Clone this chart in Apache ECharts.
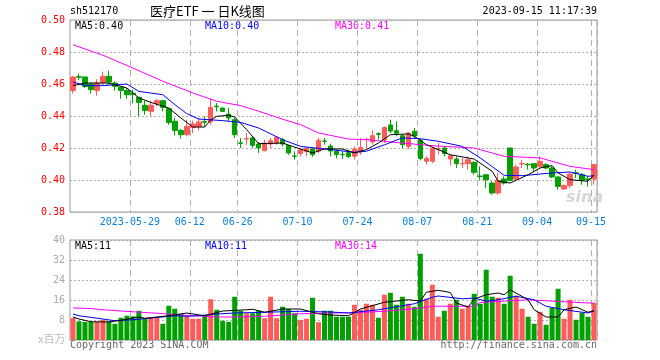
<!DOCTYPE html>
<html><head><meta charset="utf-8">
<script src="https://cdn.jsdelivr.net/npm/echarts@6/dist/echarts.min.js"></script>
<style>html,body{margin:0;padding:0;background:#fff}#c{width:660px;height:360px}</style>
</head><body><div id="c"></div>
<script>
const dates = ['05-15','05-16','05-17','05-18','05-19','05-22','05-23','05-24','05-25','05-26','05-29','05-30','05-31',
'06-01','06-02','06-05','06-06','06-07','06-08','06-09','06-12','06-13','06-14','06-15','06-16','06-19','06-20','06-21','06-26','06-27','06-28','06-29','06-30',
'07-03','07-04','07-05','07-06','07-07','07-10','07-11','07-12','07-13','07-14','07-17','07-18','07-19','07-20','07-21','07-24','07-25','07-26','07-27','07-28','07-31',
'08-01','08-02','08-03','08-04','08-07','08-08','08-09','08-10','08-11','08-14','08-15','08-16','08-17','08-18','08-21','08-22','08-23','08-24','08-25','08-28','08-29','08-30','08-31',
'09-01','09-04','09-05','09-06','09-07','09-08','09-11','09-12','09-13','09-14','09-15'];
const opens = [0.456,0.4646,0.4644,0.46,0.456,0.461,0.4648,0.4606,0.458,0.456,
0.4542,0.4517,0.4467,0.4429,0.4477,0.4496,0.4446,0.4367,0.431,0.4283,
0.4329,0.4335,0.4365,0.4363,0.4462,0.445,0.4412,0.4377,0.4232,0.4256,
0.4263,0.4225,0.4183,0.4225,0.4231,0.4252,0.4215,0.415,0.4165,0.4179,
0.4194,0.4181,0.4244,0.4212,0.4179,0.416,0.4171,0.4148,0.4175,0.4252,
0.4238,0.429,0.425,0.4344,0.4308,0.4277,0.421,0.4304,0.4248,0.4117,
0.4117,0.4193,0.42,0.4131,0.4131,0.4101,0.4102,0.411,0.4025,0.4033,
0.3981,0.3919,0.4006,0.42,0.4006,0.41,0.4098,0.4102,0.4085,0.4096,
0.4075,0.4019,0.3944,0.3965,0.4045,0.4033,0.4007,0.4006];
const closes = [0.4644,0.4642,0.4585,0.4565,0.4606,0.4648,0.4612,0.4585,0.456,0.4533,
0.4535,0.4485,0.4435,0.4467,0.4496,0.4454,0.436,0.431,0.4283,0.4335,
0.435,0.4363,0.4361,0.4454,0.4458,0.4429,0.4388,0.4283,0.4229,0.4259,
0.4217,0.42,0.4231,0.4246,0.4267,0.4225,0.4169,0.4148,0.4188,0.42,
0.4158,0.4248,0.4241,0.4181,0.416,0.4158,0.4146,0.4194,0.4203,0.4255,
0.4277,0.4286,0.4328,0.4306,0.4292,0.4221,0.4294,0.4275,0.4135,0.4135,
0.4197,0.4196,0.4165,0.4152,0.4102,0.4104,0.4127,0.4048,0.4022,0.4002,
0.3919,0.3998,0.3981,0.3998,0.4081,0.4103,0.4095,0.4075,0.4117,0.4075,
0.4019,0.396,0.3965,0.4037,0.4042,0.3998,0.4004,0.4096];
const lows = [0.454,0.4623,0.4575,0.454,0.4527,0.4596,0.4596,0.4558,0.4508,0.4508,
0.448,0.4398,0.4408,0.4398,0.446,0.443,0.4346,0.4279,0.4258,0.4273,
0.4294,0.431,0.4335,0.4346,0.4429,0.4425,0.437,0.4263,0.42,0.422,
0.42,0.4169,0.4179,0.42,0.4221,0.421,0.4158,0.4127,0.4148,0.4148,
0.4144,0.4169,0.4221,0.4148,0.4135,0.4131,0.4138,0.4127,0.4158,0.42,
0.4221,0.4252,0.4231,0.4294,0.4273,0.42,0.4194,0.4263,0.4123,0.4096,
0.4106,0.4158,0.4148,0.409,0.4075,0.4075,0.4065,0.4033,0.4002,0.395,
0.3908,0.3908,0.3971,0.3992,0.3992,0.4075,0.4065,0.4054,0.4075,0.4065,
0.4012,0.394,0.3938,0.395,0.4012,0.3971,0.396,0.3971];
const highs = [0.465,0.4665,0.4644,0.461,0.463,0.4677,0.4683,0.4617,0.458,0.4575,
0.4565,0.4517,0.4496,0.4496,0.4506,0.4496,0.445,0.4388,0.4319,0.4377,
0.4371,0.4388,0.4398,0.4508,0.4481,0.4452,0.445,0.4388,0.4263,0.4294,
0.4273,0.4237,0.4252,0.4263,0.4275,0.4263,0.4215,0.4179,0.42,0.4206,
0.42,0.4263,0.4263,0.4227,0.419,0.4179,0.419,0.421,0.4263,0.4263,
0.431,0.4298,0.4335,0.4377,0.4367,0.4283,0.4298,0.4325,0.4256,0.4148,
0.4206,0.4231,0.421,0.4152,0.4148,0.4138,0.4148,0.4117,0.4085,0.4033,
0.3992,0.4044,0.4023,0.42,0.4096,0.4127,0.4106,0.4106,0.4148,0.4106,
0.4085,0.4023,0.3973,0.4044,0.4065,0.4044,0.4023,0.4102];
const volumes = [8.8,7.5,7.2,7.2,7.2,8.1,7.5,6.5,8.9,9.7,
9.5,11.7,8.8,8.8,8.8,6.5,13.7,12.5,10.4,9.7,
8.5,8.5,10,16.3,12.1,7.7,7.3,17.3,11.7,10.7,
10.7,11.7,8.7,17.3,8.7,13.3,12.4,10.7,8,8.5,
16.9,7.1,11.7,11.7,9.3,9.3,9.3,14.1,12.1,14.5,
14.1,8.9,18.1,18.9,14.1,17.3,14.5,13.3,34.5,16.5,
22.1,9.3,11.7,14.5,16.1,12.5,13.3,18.5,14.5,28.1,
17.3,16.9,14.5,25.7,17.7,12.5,9.3,6.5,11.3,6.1,
12.9,20.5,8.5,16.1,8.1,10.9,9.3,14.9];
// moving-average lines at sample candles: [candle index, value]
const ma5Pts = [[0,0.459],[2,0.4606],[6,0.4606],[9,0.4575],[11,0.4513],[13,0.4485],[16,0.445],[18,0.4388],[20,0.4331],[22,0.4331],[23,0.4375],[24,0.4398],[26,0.4404],[27,0.4394],[29,0.4315],[31,0.4227],[35,0.4231],[37,0.4206],[40,0.4169],[42,0.4194],[45,0.4194],[47,0.4169],[49,0.419],[51,0.4231],[53,0.4283],[56,0.4288],[57,0.4273],[59,0.4221],[61,0.419],[63,0.4158],[67,0.4131],[70,0.4054],[71,0.3992],[73,0.3981],[76,0.4033],[78,0.4075],[80,0.409],[81,0.4044],[83,0.4002],[86,0.3992],[87,0.4033]];
const ma10Pts = [[0,0.4613],[2,0.459],[5,0.459],[9,0.46],[11,0.4554],[15,0.4533],[17,0.4471],[19,0.4415],[21,0.4381],[25,0.4371],[28,0.436],[31,0.4325],[35,0.4252],[38,0.421],[43,0.419],[47,0.4173],[49,0.418],[52,0.422],[55,0.4263],[58,0.4258],[61,0.4242],[65,0.421],[68,0.4138],[72,0.4029],[75,0.4027],[80,0.4044],[83,0.405],[86,0.4023],[87,0.4027]];
const ma30Pts = [[0,0.4845],[5,0.478],[10,0.47],[15,0.4617],[20,0.4544],[24,0.4492],[28,0.4465],[31,0.443],[35,0.438],[38,0.4346],[41,0.4294],[46,0.4256],[49,0.4252],[55,0.4231],[58,0.4221],[61,0.4212],[67,0.42],[72,0.4148],[78,0.4138],[83,0.4085],[87,0.4065]];
const vma5Pts = [[0,9.2],[1,8.4],[3,7.3],[6,7.2],[8,7.9],[11,9.2],[12,8.7],[16,9.7],[19,10.8],[22,9.7],[25,11.6],[29,12.1],[30,12.3],[32,11.1],[35,12.4],[38,12.4],[41,10.5],[43,10],[46,9.7],[48,12.4],[52,15.1],[56,16.1],[58,15.6],[59,19.1],[61,19.9],[63,19],[64,14.8],[66,13.2],[67,16.4],[69,18.1],[71,18.8],[72,18.1],[73,20.1],[76,16.1],[77,12.1],[79,9.2],[81,9.2],[82,12.1],[84,13.2],[86,11.1],[87,11.7]];
const vma10Pts = [[0,10.4],[1,9.7],[5,8.4],[7,7.7],[10,8.1],[13,8.8],[17,9.7],[19,9.5],[21,9.7],[24,10.4],[27,10.8],[32,11.1],[38,11.5],[43,11.2],[46,10.8],[51,12.1],[57,14.5],[60,17.1],[61,17.6],[65,16.5],[67,16.8],[69,15.5],[71,16.1],[74,17.5],[77,16.1],[79,13.5],[82,12.1],[86,10.8],[87,11.7]];
const vma30Pts = [[0,12.8],[3,12.6],[5,12.1],[10,11.3],[16,10.4],[19,9.9],[24,9.2],[27,9.2],[32,9.5],[38,10.5],[43,10.8],[47,10.9],[52,11.5],[57,12.5],[60,13.5],[67,13.5],[68,15],[76,16.1],[82,15.3],[87,14.7]];
const tickDates = ['05-29','06-12','06-26','07-10','07-24','08-07','08-21','09-04','09-15'];
const tickLabels = ['2023-05-29','06-12','06-26','07-10','07-24','08-07','08-21','09-04','09-15'];
const priceTicks = [0.38,0.40,0.42,0.44,0.46,0.48,0.50];
const volTicks = [0,8,16,24,32,40];

const RED = '#ff5b5b', GREEN = '#00a000';
const MONO = 'DejaVu Sans Mono';
const candleData = opens.map((o,i)=>[o, closes[i], lows[i], highs[i]]);
const volData = volumes.map((v,i)=>({value:v, itemStyle:{color: closes[i] >= opens[i] ? RED : GREEN}}));
const isTick = (idx) => tickDates.indexOf(dates[idx]) >= 0;

const chart = echarts.init(document.getElementById('c'), null, {renderer:'canvas'});
const vLine = {show:true, interval:(i)=>isTick(i), lineStyle:{color:'#b0b0b0', type:[6,4], width:1}};
const hLine = {show:true, lineStyle:{color:'#b0b0b0', type:[2,2], width:1}};
chart.setOption({
  animation:false,
  backgroundColor:'#fff',
  grid:[
    {left:70, top:20, width:527, height:192, show:true, borderColor:'#999', borderWidth:1},
    {left:70, top:240, width:527, height:100, show:true, borderColor:'#999', borderWidth:1}
  ],
  xAxis:[
    {type:'category', gridIndex:0, data:dates, boundaryGap:true,
     axisLine:{show:false}, axisTick:{show:false}, splitLine:vLine,
     axisLabel:{interval:(i)=>isTick(i), formatter:(v)=>tickLabels[tickDates.indexOf(v)], color:'#0a7fd6', fontFamily:MONO, fontSize:10, margin:5, padding:[0,6,0,0]}},
    {type:'category', gridIndex:1, data:dates, boundaryGap:true,
     axisLine:{show:false}, axisTick:{show:false}, splitLine:vLine, axisLabel:{show:false}}
  ],
  yAxis:[
    {type:'value', gridIndex:0, min:priceTicks[0], max:priceTicks[priceTicks.length-1], interval:0.02,
     axisLine:{show:false}, axisTick:{show:false}, splitLine:hLine,
     axisLabel:{color:'#ff0000', fontFamily:MONO, fontSize:10, margin:5, formatter:(v)=>v.toFixed(2)}},
    {type:'value', gridIndex:1, min:volTicks[0], max:volTicks[volTicks.length-1], interval:8,
     axisLine:{show:false}, axisTick:{show:false}, splitLine:hLine,
     axisLabel:{color:'#aaa', fontFamily:MONO, fontSize:10, margin:5, formatter:(v)=>v===0?'':String(v)}}
  ],
  series:[
    {type:'candlestick', xAxisIndex:0, yAxisIndex:0, data:candleData, barWidth:5,
     itemStyle:{color:RED, color0:GREEN, borderColor:RED, borderColor0:GREEN, borderWidth:1}},
    {type:'line', xAxisIndex:0, yAxisIndex:0, data:ma30Pts, symbol:'none', lineStyle:{color:'#ff00ff', width:1}},
    {type:'line', xAxisIndex:0, yAxisIndex:0, data:ma10Pts, symbol:'none', lineStyle:{color:'#0000ff', width:1}},
    {type:'line', xAxisIndex:0, yAxisIndex:0, data:ma5Pts, symbol:'none', lineStyle:{color:'#000000', width:1}},
    {type:'bar', xAxisIndex:1, yAxisIndex:1, data:volData, barWidth:5},
    {type:'line', xAxisIndex:1, yAxisIndex:1, data:vma30Pts, symbol:'none', lineStyle:{color:'#ff00ff', width:1}},
    {type:'line', xAxisIndex:1, yAxisIndex:1, data:vma10Pts, symbol:'none', lineStyle:{color:'#0000ff', width:1}},
    {type:'line', xAxisIndex:1, yAxisIndex:1, data:vma5Pts, symbol:'none', lineStyle:{color:'#000000', width:1}}
  ],
  graphic:[
    {type:'text', left:70, top:6, style:{text:'sh512170', fill:'#000', font:'10px '+MONO}},
    {type:'text', left:150, top:5, style:{text:'医疗ETF 一 日K线图', fill:'#000', font:'13px "Noto Sans CJK SC"'}},
    {type:'text', right:63, top:6, style:{text:'2023-09-15 11:17:39', fill:'#000', font:'10px '+MONO}},
    {type:'text', left:75, top:21, style:{text:'MA5:0.40', fill:'#000', font:'10px '+MONO}},
    {type:'text', left:205, top:21, style:{text:'MA10:0.40', fill:'#0000ff', font:'10px '+MONO}},
    {type:'text', left:335, top:21, style:{text:'MA30:0.41', fill:'#ff00ff', font:'10px '+MONO}},
    {type:'text', left:75, top:241, style:{text:'MA5:11', fill:'#000', font:'10px '+MONO}},
    {type:'text', left:205, top:241, style:{text:'MA10:11', fill:'#0000ff', font:'10px '+MONO}},
    {type:'text', left:335, top:241, style:{text:'MA30:14', fill:'#ff00ff', font:'10px '+MONO}},
    {type:'text', left:38, top:333, style:{text:'x百万', fill:'#bbb', font:'11px "Noto Sans CJK SC"'}},
    {type:'text', left:70, top:340, style:{text:'Copyright 2023 SINA.COM', fill:'#666', font:'10px '+MONO}},
    {type:'text', right:63, top:340, style:{text:'http://finance.sina.com.cn', fill:'#666', font:'10px '+MONO}},
    {type:'text', left:566, top:190, style:{text:'sina', fill:'#d6d6d6', font:'italic bold 16px "DejaVu Sans"'}}
  ]
});
</script></body></html>
